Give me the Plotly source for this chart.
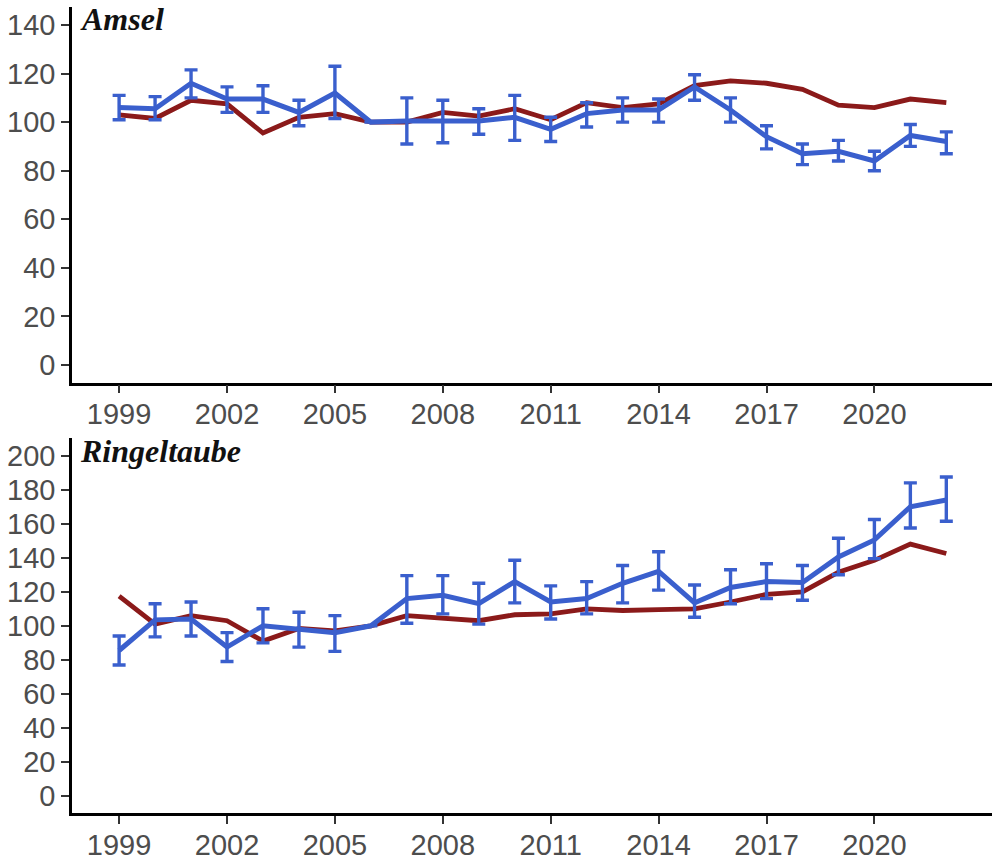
import plotly.graph_objects as go

# Survey years
years = list(range(1999, 2023))

# Amsel: index (2006 = 100), lower/upper confidence limits, comparison trend
amsel_index = [106, 105.5, 116, 109.5, 109.5, 104, 112, 100, 100.5, 100.5, 100.5, 102,
               97, 103.5, 105, 105, 114.5, 105, 94, 87, 88, 84, 94.5, 92]
amsel_low = [101, 101, 110, 104, 104, 98.5, 101.5, None, 91, 91.5, 95, 92.5,
             92, 98, 100, 100, 109, 100, 89, 82.5, 84, 80, 90, 87]
amsel_high = [111, 110.5, 121.5, 114.5, 115, 109, 123, None, 110, 109, 105.5, 111,
              102, 108, 110, 109.5, 119.5, 110, 98.5, 91, 92.5, 88, 99, 96]
amsel_trend = [103, 101.5, 109, 107.5, 95.5, 102, 103.5, 100, 100, 104, 102.5, 105.5,
               101, 108, 106, 107.5, 115, 117, 116, 113.5, 107, 106, 109.5, 108]

# Ringeltaube: index, lower/upper confidence limits, comparison trend
ringel_index = [85.5, 103.5, 104, 87.5, 100, 98, 96, 100, 116, 118, 113, 126,
                114, 116, 125, 132, 113.5, 122.5, 126, 125.5, 140.5, 150.5, 170, 174]
ringel_low = [77, 93.5, 94, 79, 90, 87.5, 85, None, 101.5, 107, 101, 113.5,
              104, 107, 113.5, 121, 105, 113, 116, 115, 130, 139.5, 157.5, 161.5]
ringel_high = [94, 113, 114, 96, 110, 108, 106, None, 129.5, 129.5, 125, 138.5,
               123.5, 126, 135.5, 143.5, 124, 133, 136.5, 135.5, 151.5, 162.5, 184, 187.5]
ringel_trend = [117.5, 101, 106, 103, 91, 98.5, 97, 100, 106, 104.5, 103, 106.5,
                107, 110, 109, 109.5, 110, 114, 118.5, 120, 131.5, 138.5, 148, 142.5]

x_ticks = [1999, 2002, 2005, 2008, 2011, 2014, 2017, 2020]
amsel_yticks = [0, 20, 40, 60, 80, 100, 120, 140]
ringel_yticks = [0, 20, 40, 60, 80, 100, 120, 140, 160, 180, 200]

BLUE = "#3a5fcd"
RED = "#8b1a1a"
W, H = 992, 860
LEFT = 72


def err_plus(vals, hi):
    return [None if h is None else h - v for v, h in zip(vals, hi)]


def err_minus(vals, lo):
    return [None if l is None else v - l for v, l in zip(vals, lo)]


fig = go.Figure()

panels = [
    ("x", "y", amsel_index, amsel_low, amsel_high, amsel_trend),
    ("x2", "y2", ringel_index, ringel_low, ringel_high, ringel_trend),
]
for xa, ya, idx, lo, hi, trend in panels:
    fig.add_trace(go.Scatter(
        x=years, y=trend, mode="lines", xaxis=xa, yaxis=ya,
        line=dict(color=RED, width=4.8), showlegend=False, hoverinfo="skip"))
    fig.add_trace(go.Scatter(
        x=years, y=idx, mode="lines", xaxis=xa, yaxis=ya,
        line=dict(color=BLUE, width=5), showlegend=False,
        error_y=dict(type="data", symmetric=False,
                     array=err_plus(idx, hi), arrayminus=err_minus(idx, lo),
                     color=BLUE, thickness=3.4, width=6.5)))

tick_font = dict(family="Liberation Sans, Arial, sans-serif", size=29, color="#4d4d4d")
common_x = dict(range=[1997.69, 2023.27], tickmode="array", tickvals=x_ticks,
                ticktext=[str(t) for t in x_ticks], showgrid=False, zeroline=False,
                showline=True, linecolor="black", linewidth=2.5, ticks="outside",
                ticklen=8, tickwidth=2, tickcolor="#333333", tickfont=tick_font,
                ticklabelstandoff=-4)
common_y = dict(tickmode="array", showgrid=False, zeroline=False, showline=True,
                linecolor="black", linewidth=2.5, ticks="outside", ticklen=8,
                tickwidth=2, tickcolor="#333333", tickfont=tick_font)

top_dom = [1 - 382.7 / H, 1 - 7 / H]
bot_dom = [1 - 813.3 / H, 1 - 438 / H]

fig.update_layout(
    width=W, height=H,
    margin=dict(l=LEFT, r=0, t=0, b=0),
    paper_bgcolor="white", plot_bgcolor="white",
    xaxis=dict(common_x, anchor="y", domain=[0, 1]),
    yaxis=dict(common_y, anchor="x", domain=top_dom, range=[-7.3, 147.4],
               tickvals=amsel_yticks, ticktext=[str(t) for t in amsel_yticks]),
    xaxis2=dict(common_x, anchor="y2", domain=[0, 1]),
    yaxis2=dict(common_y, anchor="x2", domain=bot_dom, range=[-10.2, 210.4],
                tickvals=ringel_yticks, ticktext=[str(t) for t in ringel_yticks]),
)

title_font = dict(family="Liberation Serif, Times New Roman, serif", size=32,
                  color="#111111")
for name, ypix in [("Amsel", 19), ("Ringeltaube", 451)]:
    fig.add_annotation(
        text=f"<b><i>{name}</i></b>", xref="paper", yref="paper",
        x=(78 - LEFT) / (W - LEFT), y=1 - ypix / H, xanchor="left", yanchor="middle",
        showarrow=False, font=title_font)

fig.write_html("out.html")
